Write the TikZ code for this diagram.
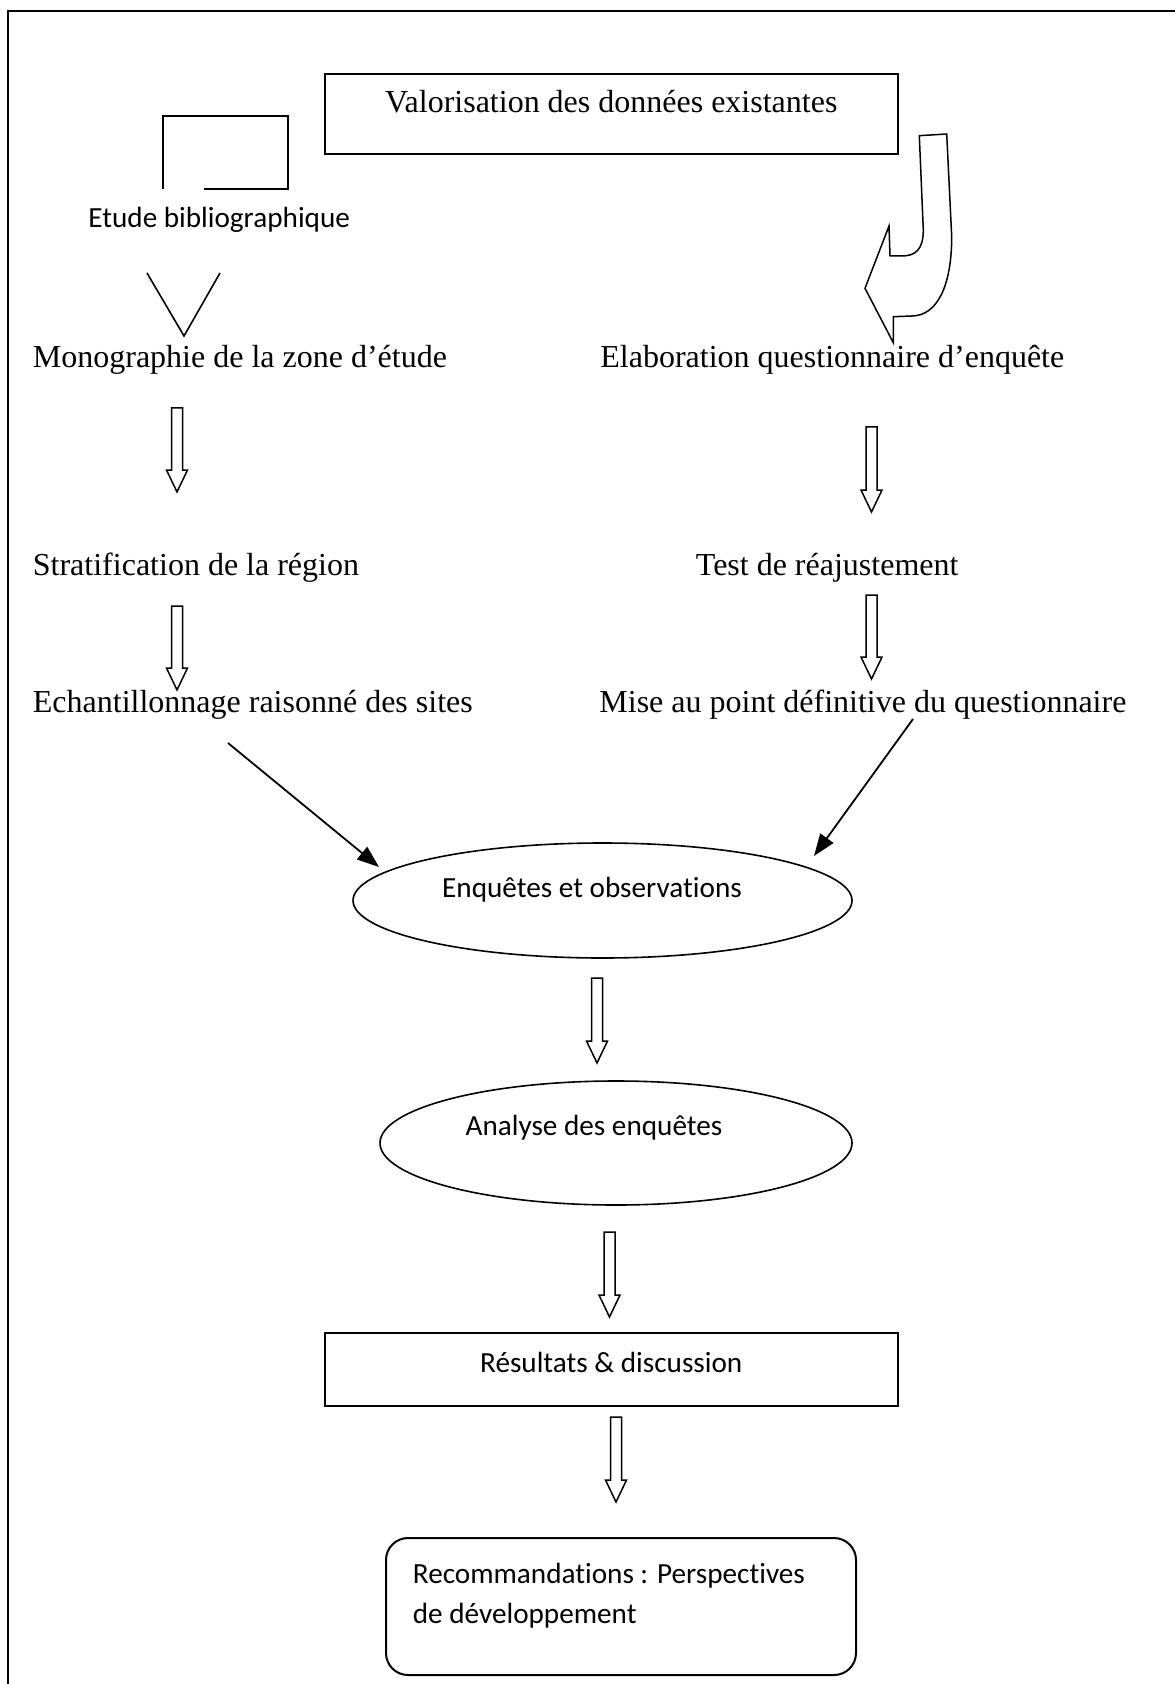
\documentclass[tikz,border=0pt]{standalone}
\usepackage{fontspec}
\setmainfont{Liberation Serif}[Ligatures=NoCommon]
\newfontfamily\calibri{Carlito}[Ligatures=NoCommon]
\usetikzlibrary{arrows.meta,calc,shapes.geometric}
\tikzset{
  serif/.style={font=\fontsize{16}{19}\selectfont, inner sep=0pt},
  sans/.style={font=\calibri\fontsize{14.6}{18}\selectfont, inner sep=0pt},
  boxframe/.style={draw, line width=1pt, inner sep=0pt},
  ovalframe/.style={draw, ellipse, line width=0.8pt, inner sep=0pt},
  hollow/.style={draw, line width=0.75pt, line join=miter},
  arrowline/.style={line width=0.9pt, -{Triangle[length=11pt,width=8pt]}},
  plainline/.style={line width=1pt},
}
\newcommand{\hollowarrow}[2]{%
  \draw[hollow] let \p1=(#1), \p2=(#2) in
    (\x1-2.75pt,\y1) -- (\x1+2.75pt,\y1) -- (\x1+2.75pt,\y2+11pt) --
    (\x1+5.25pt,\y2+11pt) -- (\x1,\y2) -- (\x1-5.25pt,\y2+11pt) --
    (\x1-2.75pt,\y2+11pt) -- cycle;}
\begin{document}
\begin{tikzpicture}[x=0.5pt,y=-0.5pt]
\useasboundingbox (0,0) rectangle (1174,1684);
\fill[white] (0,0) rectangle (1174,1684);
% frame
\draw[plainline] (8,1700) -- (8,11.5) -- (1190,11.5);

% top box
\node[boxframe, serif, minimum width=286.75pt, minimum height=40pt,
      text height=11pt, text depth=12pt] (val) at (611.25,114)
      {Valorisation des données existantes};

% open box and Etude bibliographique
\draw[plainline] (163,189) -- (163,116) -- (288,116) -- (288,189) -- (204,189);
\node[sans, anchor=base west] (etude) at (88,228) {Etude bibliographique};
\draw[line width=0.8pt] (147,273) -- (184,336) -- (220,273);

% curved arrow
\draw[hollow] (919.3,135.7) -- (946.7,134) -- (951.7,236.7)
  .. controls (951.7,286.7) and (936.7,316) .. (911.7,316)
  -- (893.3,316.7) -- (893.3,342.7) -- (865,288.3) -- (889,226)
  -- (890,256) -- (901.7,256)
  .. controls (915,256) and (923.3,250) .. (923.3,230) -- cycle;

% left column
\node[serif, anchor=base west] (mono) at (32.5,368) {Monographie de la zone d’étude};
\node[serif, anchor=base west] (strat) at (32.5,575) {Stratification de la région};
\node[serif, anchor=base west] (echan) at (32.5,712) {Echantillonnage raisonné des sites};

% right column
\node[serif, anchor=base west] (elab) at (600,368) {Elaboration questionnaire d’enquête};
\node[serif, anchor=base west] (test) at (695.5,575) {Test de réajustement};
\node[serif, anchor=base west] (mise) at (599,712) {Mise au point définitive du questionnaire};

% hollow arrows
\coordinate (l1a) at (177,408);   \coordinate (l1b) at (177,492);
\coordinate (l2a) at (177,606);   \coordinate (l2b) at (177,690);
\coordinate (r1a) at (871.5,427); \coordinate (r1b) at (871.5,512);
\coordinate (r2a) at (871.5,595); \coordinate (r2b) at (871.5,679);
\coordinate (c1a) at (597,978);   \coordinate (c1b) at (597,1063);
\coordinate (c2a) at (609.5,1232);\coordinate (c2b) at (609.5,1317);
\coordinate (c3a) at (616,1417);  \coordinate (c3b) at (616,1502);
\hollowarrow{l1a}{l1b}
\hollowarrow{l2a}{l2b}
\hollowarrow{r1a}{r1b}
\hollowarrow{r2a}{r2b}
\hollowarrow{c1a}{c1b}
\hollowarrow{c2a}{c2b}
\hollowarrow{c3a}{c3b}

% ellipses
\node[ovalframe, minimum width=249.5pt, minimum height=57.5pt] (enq) at (602.5,900.5) {};
\node[sans, anchor=base] (enqtext) at (592,897) {Enquêtes et observations};
\node[ovalframe, minimum width=236pt, minimum height=62pt] (ana) at (616,1143) {};
\node[sans, anchor=base] (anatext) at (594,1135) {Analyse des enquêtes};

% line arrows
\coordinate (la) at (228,743); \coordinate (lb) at (379,867);
\coordinate (ra) at (913,719); \coordinate (rb) at (814,856);
\draw[arrowline] (la) -- (lb);
\draw[arrowline] (ra) -- (rb);

% results box
\node[boxframe, sans, minimum width=286.75pt, minimum height=36.5pt,
      text height=11pt, text depth=8pt] (res) at (611.25,1369.5)
      {Résultats \& discussion};

% recommendations
\node[draw, line width=1pt, rounded corners=11pt, minimum width=235pt,
      minimum height=68.5pt, inner sep=0pt] (reco) at (621,1606.5) {};
\node[sans, anchor=base west] (recotext) at (412.5,1583)
  {\parbox[t]{230pt}{\baselineskip=20pt Recommandations : Perspectives\\de développement}};
\end{tikzpicture}
\end{document}
